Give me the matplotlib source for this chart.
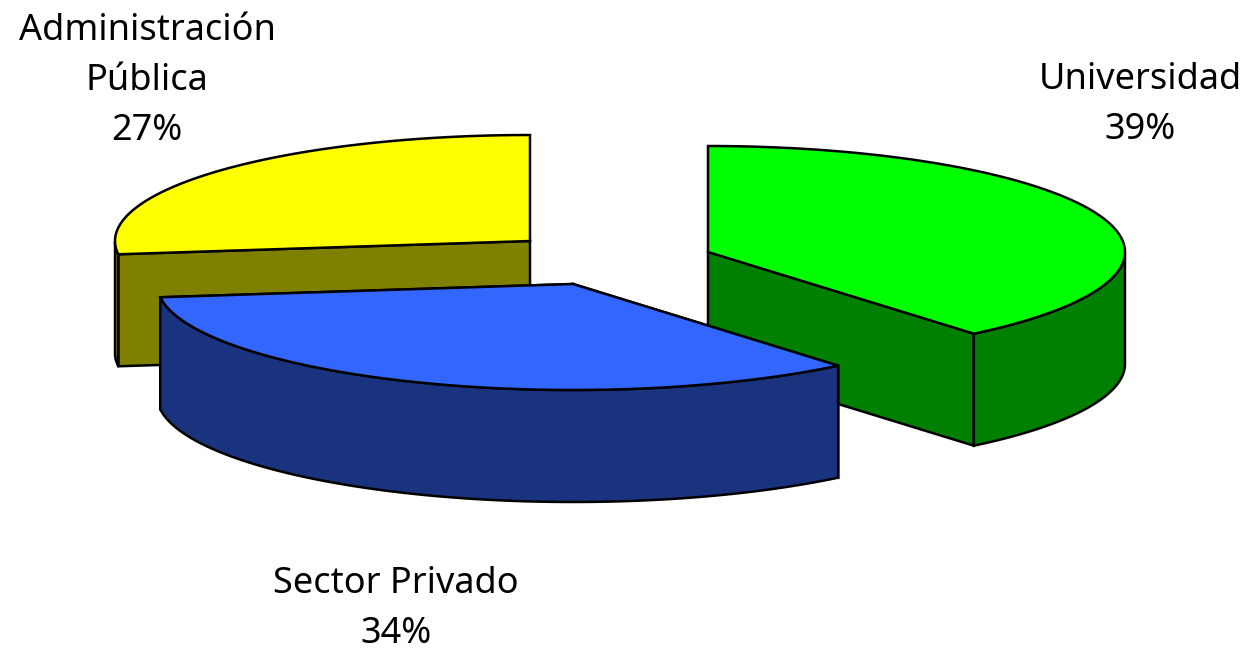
# -*- coding: utf-8 -*-
# Tarta 3D separada, dibujada a mano con poligonos
import numpy as np
import matplotlib
matplotlib.use('Agg')
import matplotlib.pyplot as plt
from matplotlib.patches import Polygon

labels = ['Universidad', 'Sector Privado', 'Administración\nPública']
values = [39, 34, 27]
top_colors = ['#00FF00', '#3366FF', '#FFFF00']
side_colors = ['#008000', '#19337F', '#808000']

# geometria de cada porcion, en pixeles
apexes = [(708, 252), (573, 284), (530, 241)]
radii = [417, 416, 415]
ry = 106
depth = 112
draw_order = [2, 0, 1]
label_pos = [(1140, 105), (396, 609), (147, 81)]
LW = 1.8


def arc(x0, y0, rx, a0, a1):
    t = np.radians(np.linspace(a0, a1, 120))
    return np.column_stack([x0 + rx * np.cos(t), y0 - ry * np.sin(t)])


def draw_slice(ax, x0, y0, rx, a0, a1, top, side):
    down = np.array([0, depth])
    apex = np.array([[x0, y0]])
    edge = arc(x0, y0, rx, a0, a1)

    # paredes rectas
    for p in (edge[0], edge[-1]):
        wall = np.array([apex[0], p, p + down, apex[0] + down])
        if p[1] > y0:
            ax.add_patch(Polygon(wall, fc=side, ec='black', lw=LW, zorder=len(ax.patches)))

    # pared curva, solo la mitad de delante
    low = np.sin(np.radians(np.linspace(a0, a1, 120))) < 0
    if low.any():
        front = edge[low]
        outer = np.vstack([front, (front + down)[::-1]])
        ax.add_patch(Polygon(outer, fc=side, ec='black', lw=LW, zorder=len(ax.patches)))

    ax.add_patch(Polygon(np.vstack([apex, edge]), fc=top, ec='black', lw=LW, zorder=len(ax.patches)))


fig = plt.figure(figsize=(12.48, 6.53), dpi=100)
ax = fig.add_axes([0, 0, 1, 1])
ax.set_xlim(0, 1248)
ax.set_ylim(653, 0)
ax.axis('off')

# angulos en sentido horario desde las 12
ends = np.cumsum(values) / sum(values) * 360
starts = np.concatenate([[0], ends[:-1]])
for i in draw_order:
    draw_slice(ax, apexes[i][0], apexes[i][1], radii[i], 90 - starts[i], 90 - ends[i],
               top_colors[i], side_colors[i])

for name, val, pos in zip(labels, values, label_pos):
    ax.text(pos[0], pos[1], f'{name}\n{val}%', ha='center', va='center',
            fontsize=26, family='Noto Sans', linespacing=1.52, color='black')

fig.savefig('out.png', dpi=100)
